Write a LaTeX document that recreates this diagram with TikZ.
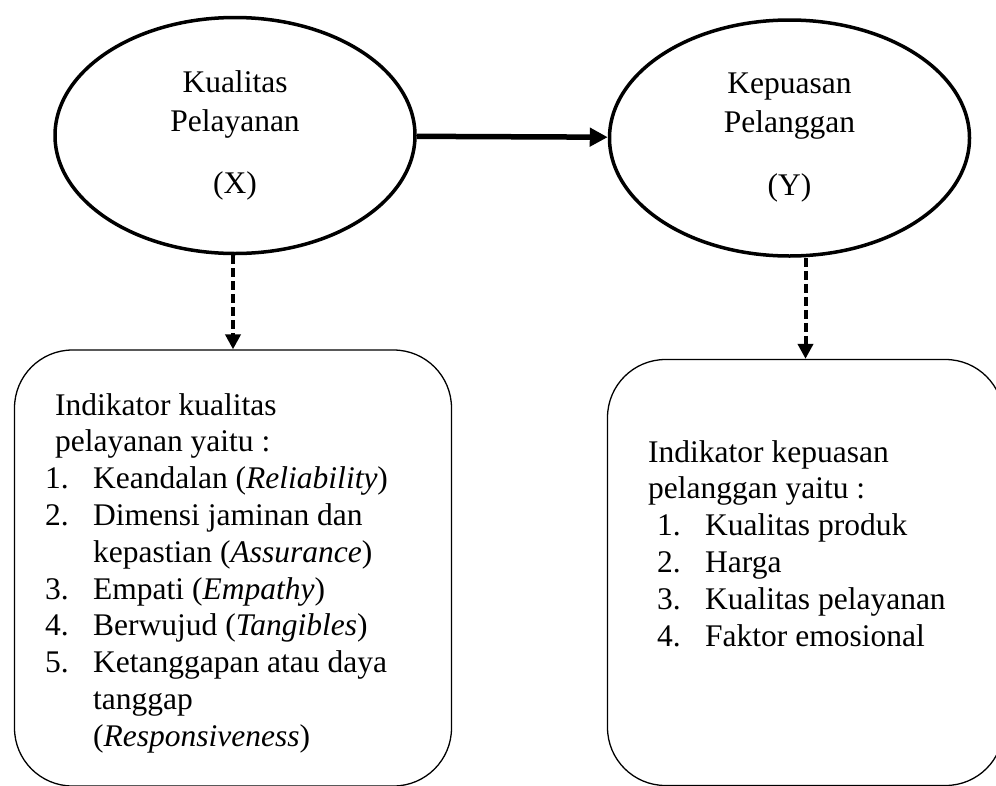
\documentclass[tikz,border=0pt]{standalone}
\usepackage{fontspec}
\setmainfont{Liberation Serif}
\usetikzlibrary{shapes.geometric,arrows.meta}

\begin{document}
\begin{tikzpicture}[x=1pt,y=-1pt,
  variabel/.style={ellipse,draw,line width=3.5pt,minimum width=360pt,minimum height=236pt,inner sep=0pt,align=center,font=\fontsize{31.5}{38.5}\selectfont},
  kotak/.style={rectangle,draw,line width=1.3pt,rounded corners=58pt},
  daftar/.style={anchor=base west,inner sep=0pt,font=\fontsize{31.5}{36.8}\selectfont},
  panah/.style={line width=5.5pt,-{Triangle[length=18pt,width=18pt]}},
  panahputus/.style={line width=4pt,dash pattern=on 9pt off 4pt,-{Triangle[length=15pt,width=15pt]}}]
  \useasboundingbox (0,0) rectangle (996,785);
  \clip (0,0) rectangle (996,785);
  % Variabel X dan Y
  \node[variabel] (X) at (235,135.5)   {Kualitas\\Pelayanan\\[23.5pt](X)};
  \node[variabel] (Y) at (789.5,138) {Kepuasan\\Pelanggan\\[25pt](Y)};
  \draw[panah] (X) -- (Y);
  % Kotak indikator
  \node[kotak,minimum width=437pt,minimum height=436pt] (indX) at (233,568) {};
  \node[kotak,minimum width=396pt,minimum height=426pt] (indY) at (805.5,572.5) {};
  \draw[panahputus] (indX.north |- X.south) -- (indX.north);
  \draw[panahputus] (indY.north |- Y.south) -- (indY.north);
  \node[daftar] (teksX) at (45,415) {\begin{tabular}[t]{@{}p{48pt}@{}l@{}}
    \multicolumn{2}{@{\hspace{10pt}}l@{}}{Indikator kualitas}\\
    \multicolumn{2}{@{\hspace{10pt}}l@{}}{pelayanan yaitu :}\\
    1. & Keandalan (\textit{Reliability})\\
    2. & Dimensi jaminan dan\\
       & kepastian (\textit{Assurance})\\
    3. & Empati (\textit{Empathy})\\
    4. & Berwujud (\textit{Tangibles})\\
    5. & Ketanggapan atau daya\\
       & tanggap\\
       & (\textit{Responsiveness})
  \end{tabular}};
  \node[daftar] (teksY) at (648,462) {\begin{tabular}[t]{@{\hspace{9pt}}p{48pt}@{}l@{}}
    \multicolumn{2}{@{}l@{}}{Indikator kepuasan}\\
    \multicolumn{2}{@{}l@{}}{pelanggan yaitu :}\\
    1. & Kualitas produk\\
    2. & Harga\\
    3. & Kualitas pelayanan\\
    4. & Faktor emosional
  \end{tabular}};
\end{tikzpicture}
\end{document}
